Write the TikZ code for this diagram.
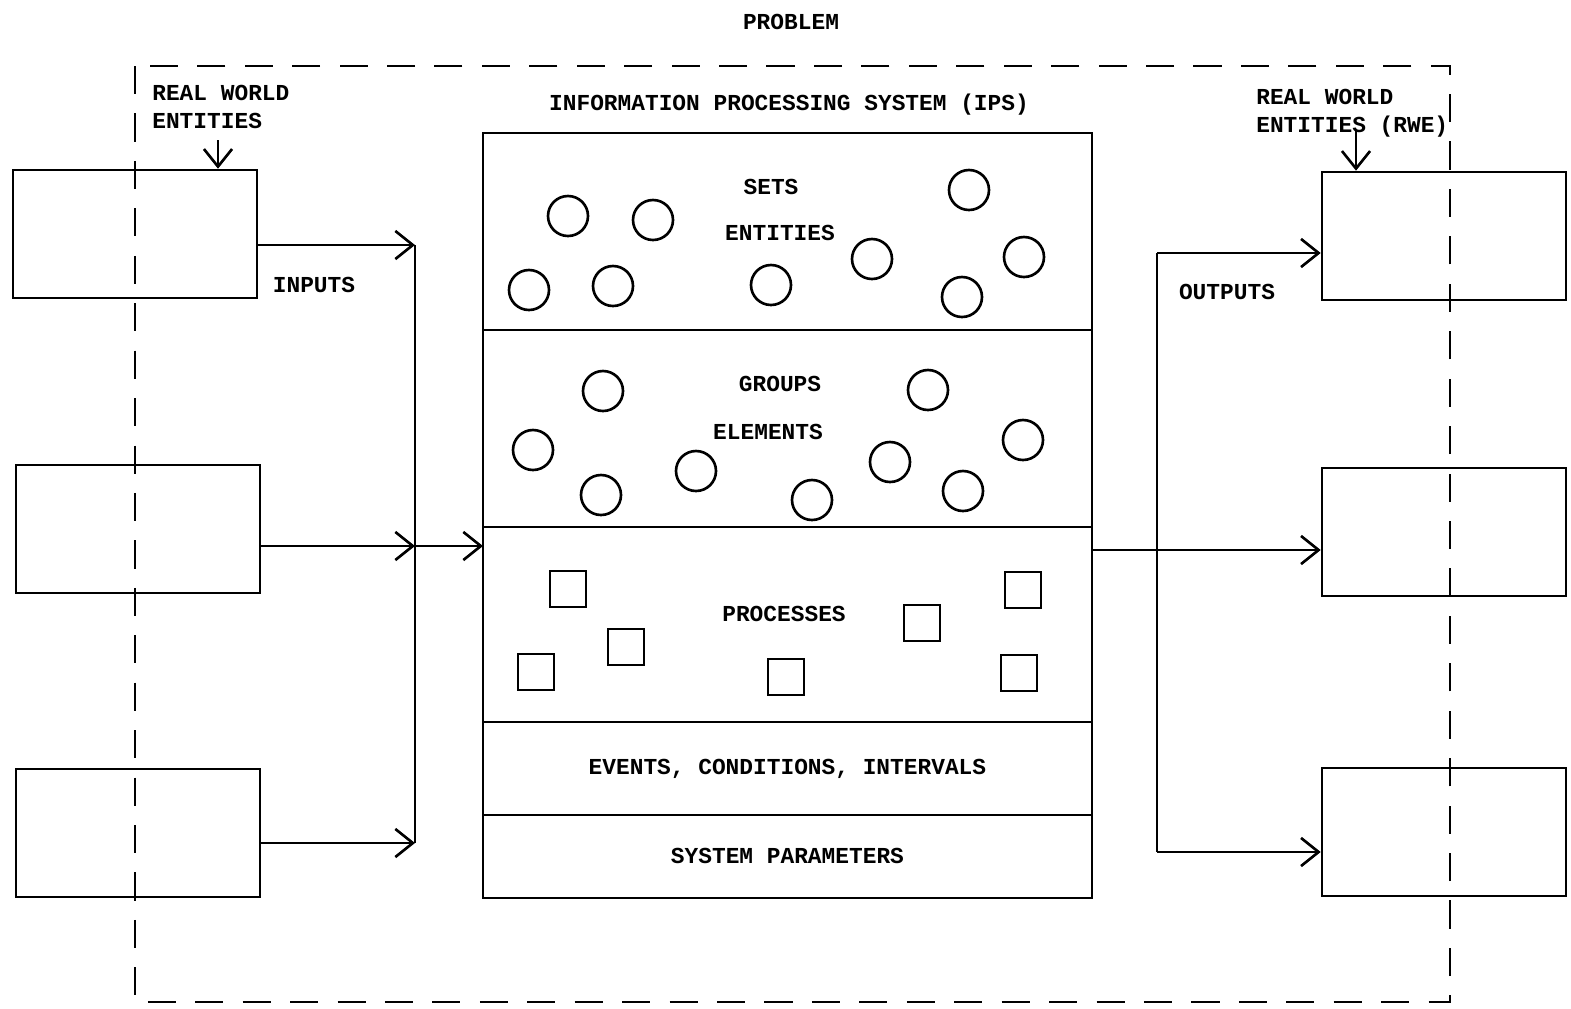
\documentclass[tikz,border=0pt]{standalone}
\usepackage{fontspec}
\newfontfamily\typew{Liberation Mono}
\usetikzlibrary{positioning,arrows.meta}

\begin{document}
\begin{tikzpicture}[
    x=0.02cm, y=-0.02cm,
    line width=1.5pt,
    every node/.style={font=\typew\bfseries\fontsize{13}{16}\selectfont},
    rwe/.style={draw, minimum width=4.88cm, minimum height=2.56cm},
    sect/.style={draw, minimum width=12.18cm, inner sep=0pt, outer sep=0pt},
    obj/.style={draw, circle, minimum size=0.8cm, inner sep=0pt},
    proc/.style={draw, minimum size=0.72cm, inner sep=0pt},
    arr/.style={-{Straight Barb[length=10pt,width=16pt]}},
    lbl/.style={align=left, inner sep=0pt}
]
\useasboundingbox (0,0) rectangle (1571,1008);

% problem boundary
\node (prob) at (791,22) {PROBLEM};
\draw[dash pattern=on 16pt off 11pt] (135,66) rectangle (1450,1002);

% information processing system
\node (ipstitle) at (789,105) {INFORMATION PROCESSING SYSTEM (IPS)};
\node[sect, minimum height=3.94cm, anchor=north west] (sets) at (483,133) {};
\node[sect, minimum height=3.94cm, below=0pt of sets] (groups) {};
\node[sect, minimum height=3.9cm, below=0pt of groups] (procs) {};
\node[sect, minimum height=1.86cm, below=0pt of procs] (events) {EVENTS, CONDITIONS, INTERVALS};
\node[sect, minimum height=1.66cm, below=0pt of events] (params) {SYSTEM PARAMETERS};

\node (setslbl) at (771,187) {SETS};
\node (entlbl) at (780,233) {ENTITIES};
\node (grplbl) at (780,384) {GROUPS};
\node (elemlbl) at (768,432) {ELEMENTS};
\node (proclbl) at (784,614) {PROCESSES};

\foreach \x/\y [count=\i] in {568/216, 653/220, 529/290, 613/286, 771/285,
    872/259, 969/190, 1024/257, 962/297}
  \node[obj] (ent\i) at (\x,\y) {};
\foreach \x/\y [count=\i] in {603/391, 533/450, 601/495, 696/471, 812/500,
    890/462, 928/390, 963/491, 1023/440}
  \node[obj] (elem\i) at (\x,\y) {};
\foreach \x/\y [count=\i] in {568/589, 626/647, 536/672, 786/677, 922/623,
    1023/590, 1019/673}
  \node[proc] (p\i) at (\x,\y) {};

% input entities
\node[rwe] (in1) at (135,234) {};
\node[rwe] (in2) at (138,529) {};
\node[rwe] (in3) at (138,833) {};
\node[lbl, anchor=north west] (inrwe) at (151,84) {REAL WORLD\\ENTITIES};
\coordinate (inrwetip) at (218,140);
\draw[arr] (inrwetip) -- (inrwetip |- in1.north);
\node (inputs) at (314,285) {INPUTS};

\coordinate (bus1) at (415,245);
\coordinate (bus2) at (415,546);
\coordinate (bus3) at (415,843);
\draw[arr] (bus1 -| in1.east) -- (bus1);
\draw[arr] (bus2 -| in2.east) -- (bus2);
\draw[arr] (bus3 -| in3.east) -- (bus3);
\draw (bus1) -- (bus3);
\draw[arr] (bus2) -- (bus2 -| procs.west);

% output entities
\node[rwe] (out1) at (1444,236) {};
\node[rwe] (out2) at (1444,532) {};
\node[rwe] (out3) at (1444,832) {};
\node[lbl, anchor=north west] (outrwe) at (1255,88) {REAL WORLD\\ENTITIES (RWE)};
\coordinate (outrwetip) at (1356,130);
\draw[arr] (outrwetip) -- (outrwetip |- out1.north);
\node (outputs) at (1227,292) {OUTPUTS};

\coordinate (obus1) at (1157,253);
\coordinate (obus2) at (1157,550);
\coordinate (obus3) at (1157,852);
\draw (obus1) -- (obus3);
\draw[arr] (obus1) -- (obus1 -| out1.west);
\draw[arr] (obus3) -- (obus3 -| out3.west);
\draw[arr] (obus2 -| procs.east) -- (obus2 -| out2.west);
\end{tikzpicture}
\end{document}
